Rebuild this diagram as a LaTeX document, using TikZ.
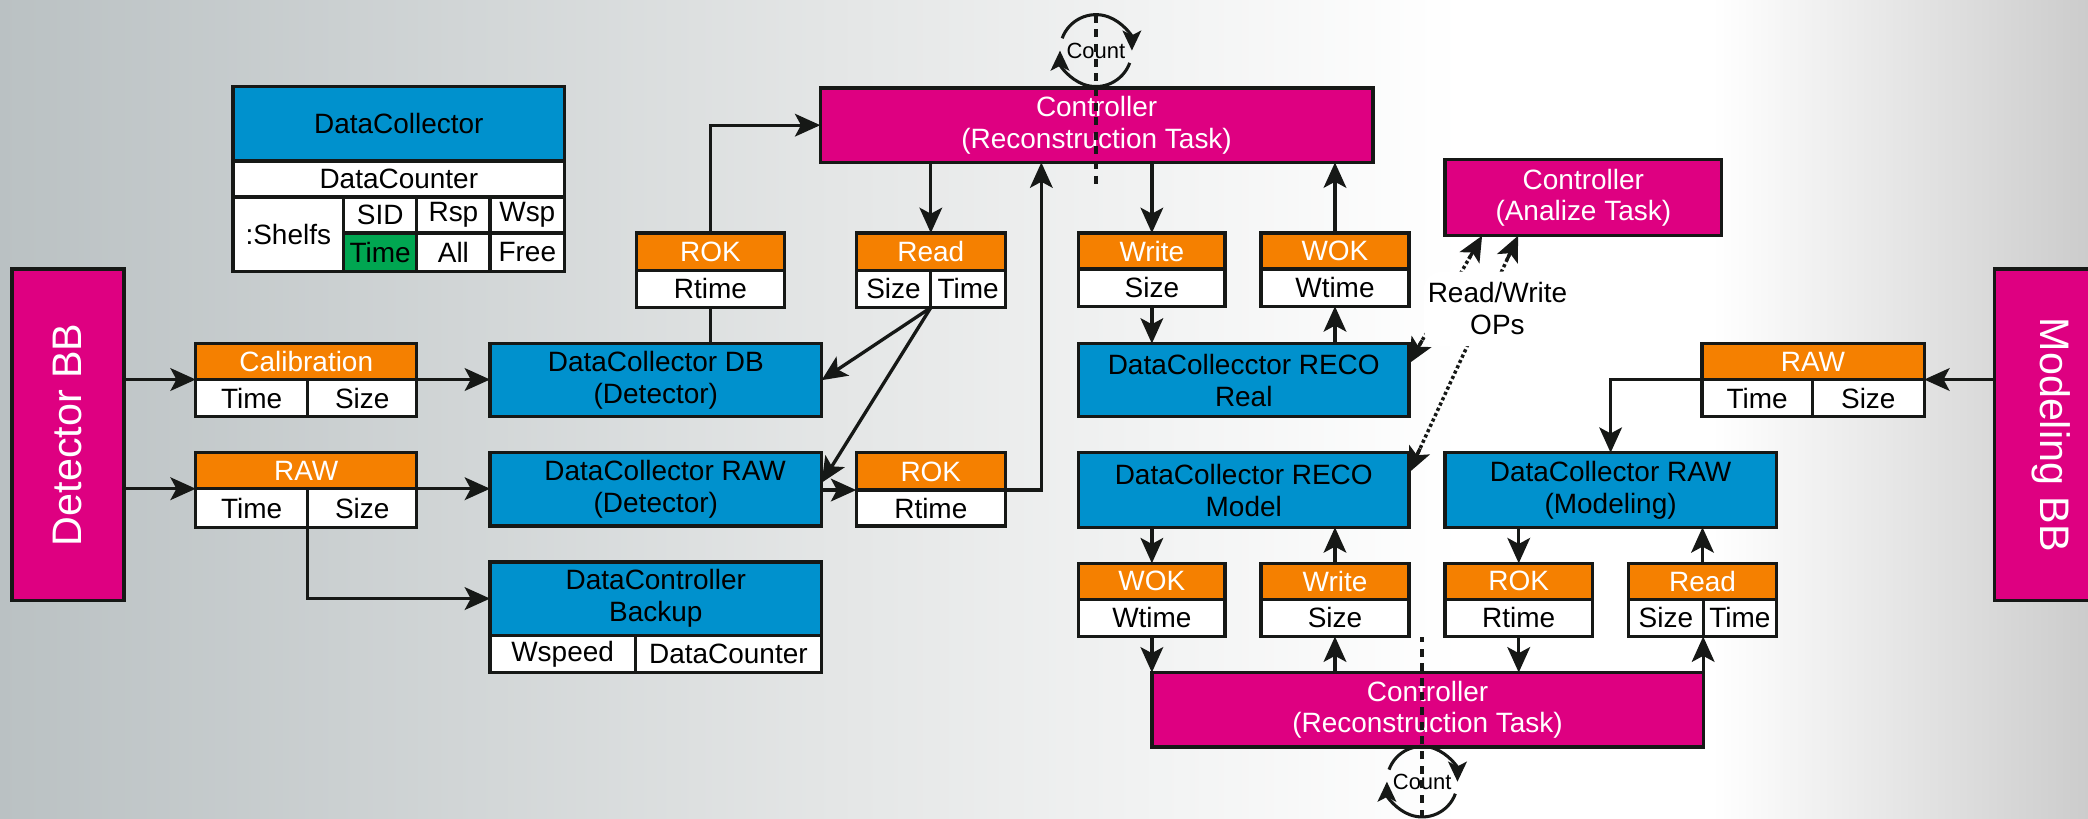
\documentclass[tikz,border=0pt]{standalone}
\usepackage{fontspec}
\setmainfont{Liberation Sans}
\usetikzlibrary{arrows.meta,calc}
\definecolor{cblue}{RGB}{0,145,205}
\definecolor{corange}{RGB}{245,128,0}
\definecolor{cmag}{RGB}{222,0,129}
\definecolor{cgreen}{RGB}{0,166,81}
\definecolor{cline}{RGB}{22,24,22}
\definecolor{bgL}{RGB}{186,193,195}
\definecolor{bgM}{RGB}{228,230,230}
\definecolor{bgR}{RGB}{204,204,204}
\pgfdeclarehorizontalshading{bgshade}{100bp}{color(0bp)=(bgL); color(25bp)=(bgL); color(45bp)=(bgM); color(60bp)=(white); color(66bp)=(white); color(75bp)=(bgR); color(100bp)=(bgR)}
\tikzset{
  bx/.style={draw=cline, line width=2.5pt, inner sep=0pt, outer sep=0pt, align=center,
    font=\fontsize{21}{24}\selectfont, text=black},
  blu/.style={bx, fill=cblue},
  org/.style={bx, fill=corange, text=white},
  wht/.style={bx, fill=white},
  mag/.style={bx, fill=cmag, text=white},
  arr/.style={draw=cline, line width=2.5pt, -{Stealth[length=19pt,width=17pt,inset=4.5pt]}},
  tipo/.style={draw=cline, line width=2.5pt, -{Stealth[length=19pt,width=17pt,inset=4.5pt]}},
  ln/.style={draw=cline, line width=2.5pt},
  carr/.style={draw=cline, line width=2.3pt, -{Stealth[length=15pt,width=14pt,inset=3.5pt]}},
  dotln/.style={draw=cline, line width=2.6pt, dash pattern=on 2.4pt off 2pt},
  dsh/.style={draw=cline, line width=2.8pt, dash pattern=on 6pt off 5pt},
  cnt/.style={circle, minimum size=54pt, inner sep=0pt, outer sep=0pt, font=\fontsize{16.5}{18}\selectfont}
}
\begin{document}
\begin{tikzpicture}[x=1pt,y=-1pt]
\useasboundingbox (0,0) rectangle (1568,615);
\clip (0,0) rectangle (1568,615);
\shade[shading=bgshade] (0,0) rectangle (1568,615);

% legend
\node[blu, minimum width=249pt, minimum height=56pt] (lgh) at (299.5,93) {DataCollector};
\node[wht, minimum width=249pt, minimum height=27pt] (lgc) at (299.5,134.5) {DataCounter};
\node[wht, minimum width=83pt, minimum height=56pt] (lgs) at (216.5,176) {:Shelfs};
\node[wht, minimum width=55pt, minimum height=27pt] (lgsid) at (285.5,161.5) {SID};
\node[wht, minimum width=55pt, minimum height=27pt] (lgrsp) at (340.5,161.5) {Rsp};
\node[wht, minimum width=56pt, minimum height=27pt] (lgwsp) at (396,161.5) {Wsp};
\node[bx, fill=cgreen, minimum width=55pt, minimum height=29pt] (lgtime) at (285.5,189.5) {Time};
\node[wht, minimum width=55pt, minimum height=29pt] (lgall) at (340.5,189.5) {All};
\node[wht, minimum width=56pt, minimum height=29pt] (lgfree) at (396,189.5) {Free};

% side blocks
\node[mag, minimum width=84pt, minimum height=249pt, font=\fontsize{31}{34}\selectfont] (detbb) at (51,326.5) {\rotatebox{90}{Detector BB}};
\node[mag, minimum width=84pt, minimum height=249pt, font=\fontsize{31}{34}\selectfont] (modbb) at (1540,326.5) {\rotatebox{-90}{Modeling BB}};

% left inputs
\node[org, minimum width=166pt, minimum height=27pt] (calh) at (230,271.5) {Calibration};
\node[wht, minimum width=84pt, minimum height=28pt] (calt) at (189,299) {Time};
\node[wht, minimum width=82pt, minimum height=28pt] (cals) at (272,299) {Size};
\node[org, minimum width=166pt, minimum height=27pt] (rawh) at (230,353.5) {RAW};
\node[wht, minimum width=84pt, minimum height=29pt] (rawt) at (189,381.5) {Time};
\node[wht, minimum width=82pt, minimum height=29pt] (raws) at (272,381.5) {Size};

% detector collectors
\node[blu, minimum width=249pt, minimum height=55pt] (dcdb) at (492.5,285.5) {DataCollector DB\\(Detector)};
\node[blu, minimum width=249pt, minimum height=55pt] (dcraw) at (492.5,367.5) {\hspace*{14pt}DataCollector RAW\\(Detector)};
\node[blu, minimum width=249pt, minimum height=55pt] (dcbk) at (492.5,449.5) {DataController\\Backup};
\node[wht, minimum width=109pt, minimum height=28pt] (dcbkw) at (422.5,491) {Wspeed};
\node[wht, minimum width=140pt, minimum height=28pt] (dcbkc) at (547,491) {DataCounter};

% ROK / Read (top)
\node[org, minimum width=111pt, minimum height=28pt] (rokth) at (533.5,189) {ROK};
\node[wht, minimum width=111pt, minimum height=28pt] (roktb) at (533.5,217) {Rtime};
\node[org, minimum width=112pt, minimum height=28pt] (readh) at (699,189) {Read};
\node[wht, minimum width=56pt, minimum height=28pt] (readsz) at (671,217) {Size};
\node[wht, minimum width=56pt, minimum height=28pt] (readtm) at (727,217) {Time};
\node[org, minimum width=112pt, minimum height=28pt] (rokbh) at (699,354) {ROK};
\node[wht, minimum width=112pt, minimum height=27pt] (rokbb) at (699,381.5) {Rtime};

% top controller
\node[mag, minimum width=415pt, minimum height=56pt] (ctrl) at (823.5,94) {Controller\\(Reconstruction Task)};
\node[cnt] (cnt1) at (823,38) {Count};

\node[org, minimum width=110pt, minimum height=27pt] (writeh) at (865,188.5) {Write};
\node[wht, minimum width=110pt, minimum height=28pt] (writeb) at (865,216) {Size};
\node[org, minimum width=111pt, minimum height=27pt] (wokh) at (1002.5,188.5) {WOK};
\node[wht, minimum width=111pt, minimum height=28pt] (wokb) at (1002.5,216) {Wtime};
\node[blu, minimum width=248pt, minimum height=55pt] (dcreal) at (934,285.5) {DataCollecctor RECO\\Real};

\node[mag, minimum width=208pt, minimum height=57pt] (ana) at (1189,148.5) {Controller\\(Analize Task)};

\node[blu, minimum width=248pt, minimum height=56pt] (dcmod) at (934,368) {DataCollector RECO\\Model};
\node[org, minimum width=110pt, minimum height=27pt] (wokbh) at (865,436.5) {WOK};
\node[wht, minimum width=110pt, minimum height=28pt] (wokbb) at (865,464) {Wtime};
\node[org, minimum width=111pt, minimum height=27pt] (writebh) at (1002.5,436.5) {Write};
\node[wht, minimum width=111pt, minimum height=28pt] (writebb) at (1002.5,464) {Size};

\node[mag, minimum width=414pt, minimum height=56pt] (ctrl2) at (1072,533) {Controller\\(Reconstruction Task)};
\node[cnt] (cnt2) at (1068,587) {Count};

\node[blu, minimum width=249pt, minimum height=56pt] (dcrm) at (1209.5,368) {DataCollector RAW\\(Modeling)};
\node[org, minimum width=111pt, minimum height=27pt] (rokbrh) at (1140.5,436.5) {ROK};
\node[wht, minimum width=111pt, minimum height=28pt] (rokbrb) at (1140.5,464) {Rtime};
\node[org, minimum width=111pt, minimum height=27pt] (readbrh) at (1278.5,436.5) {Read};
\node[wht, minimum width=56pt, minimum height=28pt] (readbrs) at (1251,464) {Size};
\node[wht, minimum width=55pt, minimum height=28pt] (readbrt) at (1306.5,464) {Time};

\node[org, minimum width=167pt, minimum height=27pt] (rawrh) at (1361.5,271.5) {RAW};
\node[wht, minimum width=83pt, minimum height=28pt] (rawrt) at (1319.5,299) {Time};
\node[wht, minimum width=84pt, minimum height=28pt] (rawrs) at (1403,299) {Size};

\coordinate (up1) at (782,122);
\coordinate (d1) at (823,140);

% connectors left
\draw[arr] (detbb.east |- calh.south west) -- (calh.south west);
\draw[arr] (calh.south east) -- (calh.south east -| dcdb.west);
\draw[arr] (detbb.east |- rawh.south west) -- (rawh.south west);
\draw[arr] (rawh.south east) -- (rawh.south east -| dcraw.west);
\draw[arr] (rawt.south east) |- (dcbk.west);

\draw[ln] (dcdb.north -| roktb.south) -- (roktb.south);
\draw[arr] (rokth.north) |- (ctrl.west);
\draw[arr] (ctrl.south -| readh.north) -- (readh.north);
\draw[arr] (readsz.south east) -- (dcdb.east);
\draw[arr] (readsz.south east) -- ([yshift=5pt]dcraw.east);
\draw[arr] (rokbh.south west -| dcraw.east) -- (rokbh.south west);
\draw[arr] (rokbh.south east) -| (up1);

% connectors top right
\draw[arr] (ctrl.south -| writeh.north) -- (writeh.north);
\draw[arr] (writeb.south) -- (writeb.south |- dcreal.north);
\draw[arr] (dcreal.north -| wokb.south) -- (wokb.south);
\draw[arr] (wokh.north) -- (wokh.north |- ctrl.south);

% connectors bottom right
\draw[arr] (dcmod.south -| wokbh.north) -- (wokbh.north);
\draw[arr] (wokbb.south) -- (wokbb.south |- ctrl2.north);
\draw[arr] (ctrl2.north -| writebb.south) -- (writebb.south);
\draw[arr] (writebh.north) -- (writebh.north |- dcmod.south);

\draw[arr] (dcrm.south -| rokbrh.north) -- (rokbrh.north);
\draw[arr] (rokbrb.south) -- (rokbrb.south |- ctrl2.north);
\draw[arr] (ctrl2.north east) -- (readbrs.south east);
\draw[arr] (readbrh.north) -- (readbrh.north |- dcrm.south);

\draw[arr] (modbb.west |- rawrh.south east) -- (rawrh.south east);
\draw[arr] (rawrh.south west) -| (dcrm.north);

% dotted read/write ops
\coordinate (r1) at ([yshift=12.5pt]dcreal.east);
\coordinate (a1) at ([xshift=28pt]ana.south west);
\coordinate (r2) at ([yshift=13pt]dcmod.east);
\coordinate (a2) at ([xshift=55pt]ana.south west);
\draw[dotln] ($(r1)!16pt!(a1)$) -- ($(a1)!16pt!(r1)$);
\draw[dotln] ($(r2)!16pt!(a2)$) -- ($(a2)!16pt!(r2)$);
\draw[tipo] ($(r1)!20pt!(a1)$) -- (r1);
\draw[tipo] ($(a1)!20pt!(r1)$) -- (a1);
\draw[tipo] ($(r2)!20pt!(a2)$) -- (r2);
\draw[tipo] ($(a2)!20pt!(r2)$) -- (a2);
\node[fill=white, rounded corners=14pt, minimum width=111pt, minimum height=56pt, inner sep=0pt,
  align=center, font=\fontsize{21}{24}\selectfont] (ops) at (1124.5,232) {Read/Write\\OPs};

% count loops
\draw[dsh] (cnt1.north) -- (d1);
\draw[carr] ([shift={(160:27pt)}]cnt1.center) arc[start angle=160, end angle=0, radius=27pt];
\draw[carr] ([shift={(-20:27pt)}]cnt1.center) arc[start angle=-20, end angle=-180, radius=27pt];

\draw[dsh] (cnt2.south) -- (cnt2.south |- wokbb.south);
\draw[carr] ([shift={(160:26.5pt)}]cnt2.center) arc[start angle=160, end angle=0, radius=26.5pt];
\draw[carr] ([shift={(-20:26.5pt)}]cnt2.center) arc[start angle=-20, end angle=-180, radius=26.5pt];
\end{tikzpicture}
\end{document}
